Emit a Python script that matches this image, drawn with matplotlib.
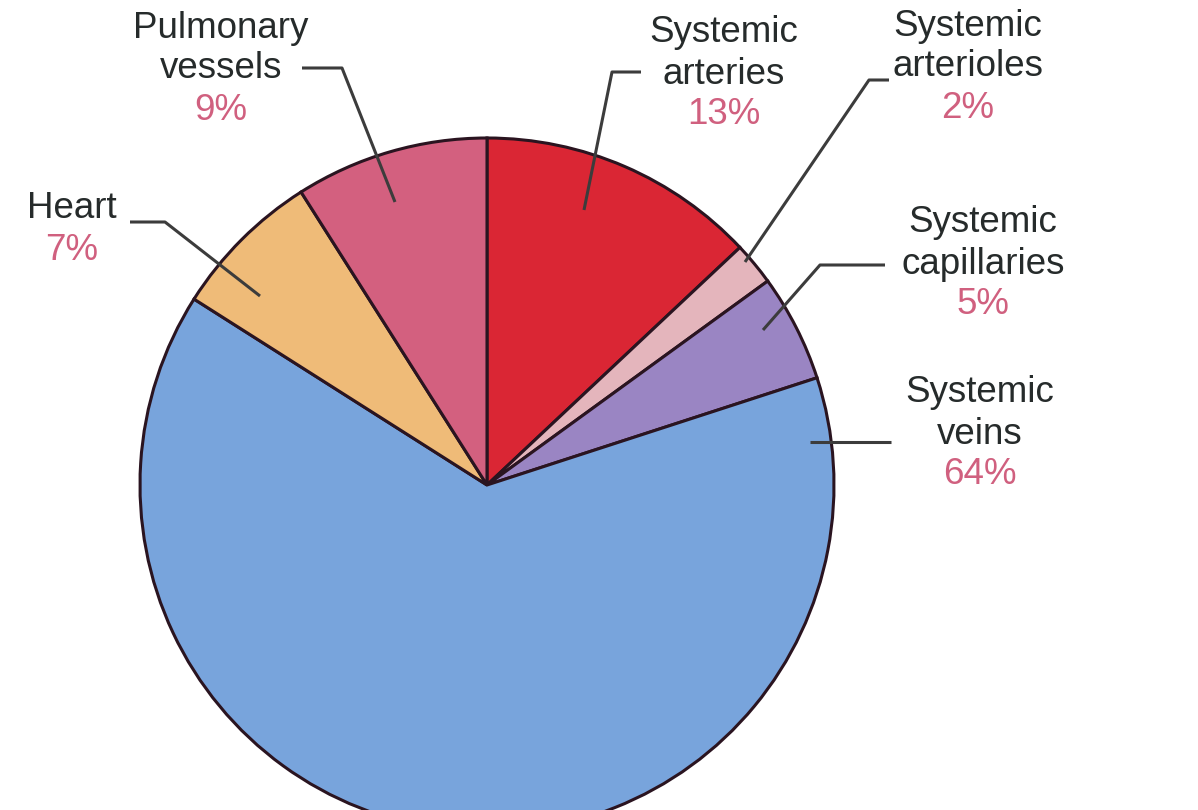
import matplotlib
matplotlib.use("Agg")
import matplotlib.pyplot as plt

# ---- data ----
categories = ["Systemic arteries", "Systemic arterioles", "Systemic capillaries",
              "Systemic veins", "Heart", "Pulmonary vessels"]
percents = [13, 2, 5, 64, 7, 9]
slice_colors = ["#da2634", "#e4b5bc", "#9a85c3", "#78a4dc", "#efbb78", "#d3607f"]
label_lines = [["Systemic", "arteries"], ["Systemic", "arterioles"],
               ["Systemic", "capillaries"], ["Systemic", "veins"],
               ["Heart"], ["Pulmonary", "vessels"]]

W, H = 1198, 810
fig = plt.figure(figsize=(W / 100, H / 100), dpi=100)
ax = fig.add_axes([0, 0, 1, 1])

def Y(p):
    return H - p

cx, cy, R = 487, 485, 347
ax.pie(percents, colors=slice_colors, startangle=90, counterclock=False,
       center=(cx, Y(cy)), radius=R,
       wedgeprops=dict(edgecolor="#2a1420", linewidth=2.2))
ax.set_xlim(0, W)
ax.set_ylim(0, H)
ax.set_aspect("equal")
ax.axis("off")

font = dict(family=["Liberation Sans", "DejaVu Sans"], fontsize=26.5)
name_color = "#262b2b"
pct_color = "#d0607f"

# label anchor (center x, first-line center y) per category, line spacing
label_pos = [(724, 33), (968, 26), (983, 223), (980, 393), (72, 209), (221, 28)]
spacing = 41

for lines, pct, (lx, ly) in zip(label_lines, percents, label_pos):
    for i, t in enumerate(lines):
        ax.text(lx, Y(ly + i * spacing), t, color=name_color, ha="center",
                va="center", **font)
    ax.text(lx, Y(ly + len(lines) * spacing), f"{pct}%", color=pct_color,
            ha="center", va="center", **font)

# leader lines (pixel coords)
leaders = [
    [(641, 72), (612, 72), (584, 210)],
    [(889, 80), (869, 80), (745, 262)],
    [(885, 265), (820, 265), (763, 330)],
    [(891, 442), (810, 442)],
    [(130, 222), (165, 222), (260, 296)],
    [(302, 68), (342, 68), (395, 202)],
]
for pts in leaders:
    xs = [p[0] for p in pts]
    ys = [Y(p[1]) for p in pts]
    ax.plot(xs, ys, color="#3c3c3c", linewidth=2.2, solid_capstyle="butt")

fig.savefig("out.png", dpi=100, facecolor="white")
